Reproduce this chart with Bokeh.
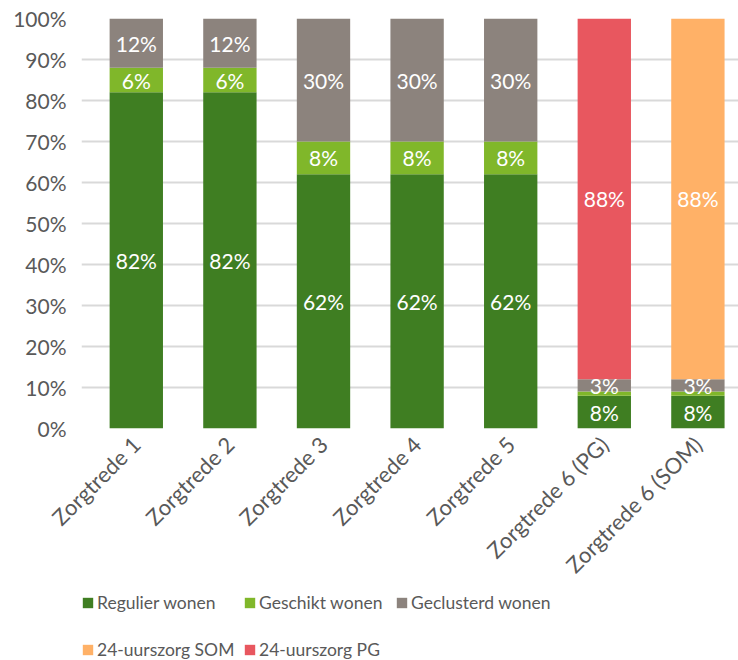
from bokeh.plotting import figure
from bokeh.layouts import column
from bokeh.models import (Range1d, FixedTicker, NumeralTickFormatter, Legend, LegendItem,
                          ColumnDataSource)
from bokeh.core.properties import value
from bokeh.embed import file_html
from bokeh.resources import INLINE
import math

categories = ["Zorgtrede 1", "Zorgtrede 2", "Zorgtrede 3", "Zorgtrede 4",
              "Zorgtrede 5", "Zorgtrede 6 (PG)", "Zorgtrede 6 (SOM)"]
regulier = [0.82, 0.82, 0.62, 0.62, 0.62, 0.08, 0.08]
geschikt = [0.06, 0.06, 0.08, 0.08, 0.08, 0.01, 0.01]
geclusterd = [0.12, 0.12, 0.30, 0.30, 0.30, 0.03, 0.03]
som = [0, 0, 0, 0, 0, 0, 0.88]
pg = [0, 0, 0, 0, 0, 0.88, 0]

series_names = ["Regulier wonen", "Geschikt wonen", "Geclusterd wonen",
                "24-uurszorg SOM", "24-uurszorg PG"]
series_keys = ["regulier", "geschikt", "geclusterd", "som", "pg"]
series_vals = [regulier, geschikt, geclusterd, som, pg]
colors = ["#3F7E22", "#80B72A", "#8C837D", "#FFB167", "#E8575F"]

FONT = "Lato"
TXT = "#595959"

xs = list(range(1, len(categories) + 1))
data = {"x": xs}
for k, v in zip(series_keys, series_vals):
    data[k] = v
src = ColumnDataSource(data)

P_H = 590
LEFT = 81
STEP = 93.6  # px per category
x0 = 1 - (135.8 - LEFT) / STEP
p = figure(width=738, height=P_H, output_backend="svg", toolbar_location=None,
           x_range=Range1d(x0, x0 + (738 - LEFT) / STEP), y_range=Range1d(0, 1),
           min_border_left=LEFT, min_border_right=0, min_border_top=18,
           min_border_bottom=P_H - 428)
p.outline_line_color = None
p.background_fill_color = "white"
p.border_fill_color = "white"

p.vbar_stack(series_keys, x="x", width=0.57, color=colors, line_color=None, source=src)

# segment labels
lx, ly, lt = [], [], []
for i, x in enumerate(xs):
    base = 0.0
    for v in series_vals:
        val = v[i]
        if val >= 0.03:
            lx.append(x)
            ly.append(base + val / 2)
            lt.append(f"{round(val * 100)}%")
        base += val
p.text(x=lx, y=ly, text=lt, text_color="white", text_align="center",
       text_baseline="middle", text_font=value(FONT), text_font_size="21px")

# axes
p.yaxis.ticker = FixedTicker(ticks=[i / 10 for i in range(11)])
p.yaxis.formatter = NumeralTickFormatter(format="0%")
p.yaxis.axis_line_color = None
p.yaxis.major_tick_line_color = None
p.yaxis.minor_tick_line_color = None
p.yaxis.major_tick_out = 0
p.yaxis.major_label_standoff = 15
p.yaxis.major_label_text_font = FONT
p.yaxis.major_label_text_font_size = "21px"
p.yaxis.major_label_text_color = TXT

p.xaxis.ticker = FixedTicker(ticks=xs)
p.xaxis.major_label_overrides = {x: c for x, c in zip(xs, categories)}
p.xaxis.axis_line_color = None
p.xaxis.major_tick_line_color = None
p.xaxis.minor_tick_line_color = None
p.xaxis.major_tick_out = 0
p.xaxis.major_tick_in = 0
p.xaxis.major_label_orientation = math.pi / 4
p.xaxis.major_label_standoff = 12
p.xaxis.major_label_text_font = FONT
p.xaxis.major_label_text_font_size = "22px"
p.xaxis.major_label_text_color = TXT

p.xgrid.grid_line_color = None
p.ygrid.grid_line_color = "#D9D9D9"
p.ygrid.grid_line_width = 2

# legend strip (its frame is aligned with the chart frame)
L_H = 660 - P_H
pl = figure(width=738, height=L_H, output_backend="svg", toolbar_location=None,
            x_range=Range1d(-10, -9), y_range=Range1d(0, 1),
            x_axis_location=None, y_axis_location=None,
            min_border=0, min_border_left=0, min_border_right=0)
pl.outline_line_color = None
pl.grid.visible = False
lrs = pl.vbar_stack(series_keys, x="x", width=0.57, color=colors, line_color=None, source=src)

legend_pos = [(0, 47), (162, 47), (314, 47), (0, 0), (162, 0)]
for name, r, loc in zip(series_names, lrs, legend_pos):
    lg = Legend(items=[LegendItem(label=name, renderers=[r])], location=loc,
                glyph_width=13, glyph_height=13, label_standoff=3, padding=0,
                margin=0, border_line_color=None, background_fill_alpha=0,
                label_text_font=FONT, label_text_font_size="17.5px",
                label_text_color=TXT, label_height=20)
    pl.add_layout(lg, "center")

open("out.html", "w").write(file_html(column(p, pl, spacing=0), INLINE))
